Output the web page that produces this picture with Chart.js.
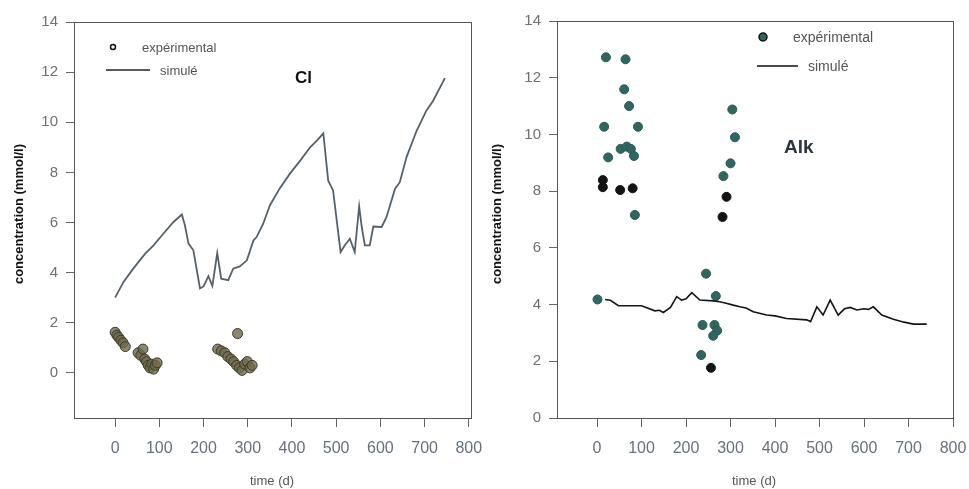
<!DOCTYPE html>
<html>
<head>
<meta charset="utf-8">
<script src="https://cdn.jsdelivr.net/npm/chart.js@4.4.0/dist/chart.umd.min.js"></script>
<style>
  body { margin: 0; background: #fff; }
  .panel { position: absolute; top: 0; }
</style>
</head>
<body>
<div class="panel" style="left:0"><canvas id="clChart" width="490" height="489"></canvas></div>
<div class="panel" style="left:480px"><canvas id="alkChart" width="489" height="489"></canvas></div>
<script>
// tick labels
const xTicks = [0, 100, 200, 300, 400, 500, 600, 700, 800];
const yTicks = [0, 2, 4, 6, 8, 10, 12, 14];

// Cl - experimental points
const clExpTime = [0, 4, 8, 13, 18, 23, 52, 58, 63, 67, 71, 75, 79, 83, 87, 91, 95,
  232, 240, 248, 255, 262, 268, 275, 281, 287, 293, 299, 305, 310, 277];
const clExpConc = [1.62, 1.5, 1.42, 1.3, 1.2, 1.05, 0.8, 0.7, 0.95, 0.55, 0.45, 0.3, 0.2, 0.35, 0.15, 0.3, 0.4,
  0.95, 0.88, 0.8, 0.65, 0.55, 0.45, 0.3, 0.2, 0.1, 0.35, 0.45, 0.2, 0.3, 1.57];

// Cl - simulated
const clSimTime = [0, 19, 41, 68, 87, 109, 132, 151, 158, 166, 177, 192, 200, 211, 220, 231, 240, 256,
  267, 282, 298, 313, 320, 335, 350, 372, 395, 420, 441, 458, 471, 482, 493, 510, 520, 531, 542, 552,
  558, 565, 576, 584, 603, 614, 633, 644, 659, 682, 704, 719, 746];
const clSimConc = [3.0, 3.63, 4.16, 4.76, 5.09, 5.55, 6.02, 6.32, 5.88, 5.16, 4.89, 3.37, 3.45, 3.86, 3.47, 4.78, 3.76, 3.7,
  4.16, 4.25, 4.49, 5.29, 5.42, 5.95, 6.68, 7.35, 7.94, 8.5, 9.0, 9.3, 9.56, 7.67, 7.28, 4.82, 5.1, 5.35, 4.82, 6.64,
  5.8, 5.09, 5.09, 5.84, 5.82, 6.22, 7.34, 7.61, 8.6, 9.66, 10.46, 10.85, 11.76];

// Alk - experimental points (teal)
const alkExpTime = [20, 64, 61, 72, 16, 92, 25, 53, 67, 76, 83, 85, 304, 310, 300, 284, 1, 245, 267, 237, 264, 270, 261, 234];
const alkExpConc = [12.72, 12.65, 11.59, 11.0, 10.27, 10.27, 9.19, 9.49, 9.57, 9.49, 9.24, 7.16, 10.88, 9.9, 8.98, 8.53,
  4.18, 5.09, 4.3, 3.28, 3.28, 3.08, 2.9, 2.22];
// Alk - experimental points (dark)
const alkDarkTime = [13, 13, 52, 80, 291, 282, 256];
const alkDarkConc = [8.39, 8.14, 8.04, 8.1, 7.8, 7.09, 1.77];

// Alk - simulated
const alkSimTime = [18, 30, 48, 100, 130, 140, 149, 165, 179, 190, 200, 213, 231, 261, 276, 290, 306, 321, 335, 351,
  381, 400, 426, 471, 480, 494, 508, 524, 542, 556, 569, 584, 600, 610, 621, 640, 666, 690, 711, 741];
const alkSimConc = [4.18, 4.15, 3.96, 3.96, 3.78, 3.8, 3.72, 3.9, 4.28, 4.16, 4.2, 4.42, 4.16, 4.13, 4.1, 4.05, 3.98, 3.92, 3.88, 3.75,
  3.63, 3.6, 3.51, 3.46, 3.4, 3.92, 3.63, 4.16, 3.63, 3.85, 3.9, 3.81, 3.85, 3.83, 3.92, 3.63, 3.48, 3.38, 3.31, 3.31];

const FONT = '"Liberation Sans", Arial, sans-serif';
const pts = (xs, ys) => xs.map((x, i) => ({ x: x, y: ys[i] }));

// box around plot + labels / legend drawn as text
function decorPlugin(opts) {
  return {
    id: 'decor',
    afterDraw(chart) {
      const ctx = chart.ctx;
      const a = chart.chartArea;
      ctx.save();
      ctx.strokeStyle = '#555';
      ctx.lineWidth = 1;
      ctx.strokeRect(a.left + 0.5, a.top + 0.5, a.right - a.left, a.bottom - a.top);

      // y title
      ctx.fillStyle = '#111';
      ctx.font = 'bold 13px ' + FONT;
      ctx.textAlign = 'center';
      ctx.textBaseline = 'middle';
      ctx.translate(opts.yTitleX, 214);
      ctx.rotate(-Math.PI / 2);
      ctx.fillText('concentration (mmol/l)', 0, 0);
      ctx.setTransform(1, 0, 0, 1, 0, 0);

      // x title
      ctx.fillStyle = '#555';
      ctx.font = '13px ' + FONT;
      ctx.fillText('time (d)', opts.xTitleX, 481);

      // legend
      const lg = opts.legend;
      ctx.beginPath();
      ctx.arc(lg.dotX, lg.dotY, lg.dotR, 0, Math.PI * 2);
      ctx.fillStyle = lg.dotFill;
      ctx.fill();
      ctx.strokeStyle = '#111';
      ctx.lineWidth = 1.5;
      ctx.stroke();
      ctx.beginPath();
      ctx.moveTo(lg.lineX0, lg.lineY);
      ctx.lineTo(lg.lineX1, lg.lineY);
      ctx.strokeStyle = lg.lineColor;
      ctx.lineWidth = 1.5;
      ctx.stroke();
      ctx.fillStyle = '#555';
      ctx.font = lg.size + 'px ' + FONT;
      ctx.textAlign = 'left';
      ctx.fillText('expérimental', lg.textX, lg.dotY + 1);
      ctx.fillText('simulé', lg.simX, lg.lineY + 1);

      // species label
      ctx.fillStyle = opts.label.color;
      ctx.font = 'bold ' + opts.label.size + 'px ' + FONT;
      ctx.fillText(opts.label.text, opts.label.x, opts.label.y);
      ctx.restore();
    }
  };
}

function makeChart(id, datasets, axes, decor) {
  new Chart(document.getElementById(id), {
    type: 'scatter',
    data: { datasets: datasets },
    options: {
      responsive: false,
      animation: false,
      devicePixelRatio: 1,
      layout: { padding: { top: axes.top, right: axes.right, left: 0, bottom: 0 } },
      plugins: { legend: { display: false }, tooltip: { enabled: false } },
      scales: {
        x: {
          type: 'linear',
          min: axes.xMin, max: axes.xMax,
          afterBuildTicks: s => { s.ticks = xTicks.map(v => ({ value: v })); },
          afterFit: s => { s.height = 71; s.paddingLeft = 0; s.paddingRight = 0; },
          grid: { drawOnChartArea: false, tickLength: 9, color: '#666' },
          border: { color: '#444' },
          ticks: { padding: 12, color: '#657080', font: { size: 16, family: FONT } }
        },
        y: {
          type: 'linear',
          min: axes.yMin, max: 14,
          afterBuildTicks: s => { s.ticks = yTicks.map(v => ({ value: v })); },
          afterFit: s => { s.width = axes.yWidth; s.paddingTop = 0; s.paddingBottom = 0; },
          grid: { drawOnChartArea: false, tickLength: 8, color: '#666' },
          border: { color: '#555' },
          ticks: { padding: 8, color: '#707070', font: { size: 15, family: FONT } }
        }
      }
    },
    plugins: [decorPlugin(decor)]
  });
}

makeChart('clChart', [
  {
    data: pts(clSimTime, clSimConc), showLine: true, pointRadius: 0,
    borderColor: '#55606a', borderWidth: 1.8, tension: 0
  },
  {
    data: pts(clExpTime, clExpConc), pointRadius: 5,
    backgroundColor: 'rgba(112,106,72,0.8)', borderColor: '#3a3a2c', borderWidth: 1
  }
], { top: 22, right: 19, yWidth: 74, xMin: -93, xMax: 805, yMin: -1.8 }, {
  yTitleX: 19, xTitleX: 272,
  legend: { dotX: 113, dotY: 47, dotR: 2.5, dotFill: '#fff', lineX0: 106, lineX1: 150, lineY: 70,
    lineColor: '#222', textX: 142, simX: 160, size: 13 },
  label: { text: 'Cl', x: 295, y: 78, size: 17, color: '#111' }
});

makeChart('alkChart', [
  {
    data: pts(alkSimTime, alkSimConc), showLine: true, pointRadius: 0,
    borderColor: '#151515', borderWidth: 1.6, tension: 0
  },
  {
    data: pts(alkExpTime, alkExpConc), pointRadius: 4.5,
    backgroundColor: '#2f6661', borderColor: '#2a5a56', borderWidth: 1
  },
  {
    data: pts(alkDarkTime, alkDarkConc), pointRadius: 4.5,
    backgroundColor: '#141414', borderColor: '#141414', borderWidth: 1
  }
], { top: 21, right: 16, yWidth: 77, xMin: -90, xMax: 800, yMin: 0 }, {
  yTitleX: 17, xTitleX: 274,
  legend: { dotX: 283, dotY: 37, dotR: 4, dotFill: '#2f6661', lineX0: 277, lineX1: 318, lineY: 66,
    lineColor: '#111', textX: 313, simX: 328, size: 14 },
  label: { text: 'Alk', x: 304, y: 148, size: 19, color: '#2a3540' }
});
</script>
</body>
</html>
